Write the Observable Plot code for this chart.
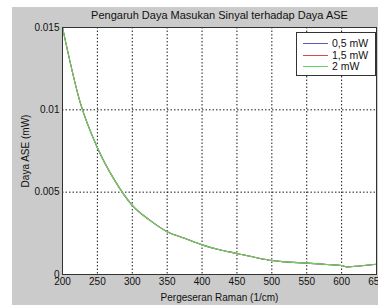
<!DOCTYPE html>
<html>
<head>
<meta charset="utf-8">
<script src="https://cdn.jsdelivr.net/npm/d3@7"></script>
<script src="https://cdn.jsdelivr.net/npm/@observablehq/plot@0.6"></script>
<style>
  html, body { margin: 0; padding: 0; background: white; overflow: hidden; }
  #wrap { position: relative; width: 378px; height: 305px; overflow: hidden; font-family: "Liberation Sans", Arial, sans-serif; }
  #bg { position: absolute; left: 12px; top: 7px; right: 0; bottom: 0; background: #cbcbcb; }
  #chart { position: absolute; left: 0; top: 0; }
  #chart svg { background: transparent !important; overflow: visible; }
  #legend { position: absolute; left: 296px; top: 32px; width: 78px; height: 42px; background: white; border: 1px solid #333; font-size: 10.5px; }
  .row { position: absolute; left: 0; height: 12px; }
  .row .sw { position: absolute; left: 6px; width: 25px; height: 0; top: 6px; border-top: 1px solid; }
  .row .lb { position: absolute; left: 35px; top: 0; line-height: 12px; white-space: nowrap; color: #111; }
</style>
</head>
<body>
<div id="wrap">
  <div id="bg"></div>
  <div id="chart"></div>
  <div id="legend"></div>
</div>
<script>
// Data
const raman = [200, 225, 250, 275, 300, 325, 350, 375, 400, 425, 450, 475, 500, 515, 550, 575, 600, 608, 625, 650];
const ase2mW = [0.015, 0.0105, 0.0077, 0.0057, 0.0042, 0.0033, 0.0026, 0.0022, 0.0018, 0.0015, 0.00128, 0.00105, 0.00085, 0.00078, 0.00069, 0.00062, 0.00055, 0.00046, 0.00052, 0.00062];
const ase05mW = ase2mW.slice();
const ase15mW = ase2mW.slice();
const seriesNames = ["0,5 mW", "1,5 mW", "2 mW"];
const seriesColors = ["#5a5ab4", "#d84848", "#5fd85f"];
const xTicks = [200, 250, 300, 350, 400, 450, 500, 550, 600, 650];
const yTicks = [0, 0.005, 0.01, 0.015];
const titleText = "Pengaruh Daya Masukan Sinyal terhadap Daya ASE";
const xLabel = "Pergeseran Raman (1/cm)";
const yLabel = "Daya ASE (mW)";

const allSeries = [ase05mW, ase15mW, ase2mW];
const rows = [];
allSeries.forEach((vals, i) => raman.forEach((x, j) => rows.push({x, y: vals[j], s: seriesNames[i]})));

const chart = Plot.plot({
  width: 378,
  height: 305,
  marginLeft: 62,
  marginRight: 2,
  marginTop: 27,
  marginBottom: 31,
  style: { fontFamily: "Liberation Sans, Arial, sans-serif", fontSize: "10px", color: "#111", background: "transparent" },
  x: { domain: [200, 650], ticks: xTicks },
  y: { domain: [0, 0.015], ticks: yTicks },
  color: { domain: seriesNames, range: seriesColors },
  marks: [
    Plot.frame({ fill: "white" }),
    Plot.gridX(xTicks.slice(1, -1), { stroke: "#000", strokeOpacity: 0.9, strokeDasharray: "1.5,2" }),
    Plot.gridY(yTicks.slice(1, -1), { stroke: "#000", strokeOpacity: 0.9, strokeDasharray: "1.5,2" }),
    Plot.line(rows, { x: "x", y: "y", z: "s", stroke: "s", strokeWidth: 1.1, curve: "monotone-x" }),
    Plot.frame({ stroke: "#333", strokeWidth: 1 }),
    Plot.axisX({ ticks: xTicks, tickSize: 0, tickPadding: 3, label: xLabel, labelAnchor: "center", labelOffset: 26, labelArrow: "none", fontSize: 10 }),
    Plot.axisY({ ticks: yTicks, tickSize: 0, tickPadding: 3, tickFormat: d => d === 0 ? "0" : String(d), label: yLabel, labelAnchor: "center", labelOffset: 41, labelArrow: "none", fontSize: 10 }),
    Plot.text([titleText], { frameAnchor: "top", dy: -16, fontSize: 11, text: d => d })
  ]
});
document.getElementById("chart").appendChild(chart);

const legend = document.getElementById("legend");
seriesNames.forEach((name, i) => {
  const r = document.createElement("div");
  r.className = "row";
  r.style.top = (4 + i * 11.7) + "px";
  r.innerHTML = `<div class="sw" style="border-color:${seriesColors[i]}"></div><div class="lb">${name}</div>`;
  legend.appendChild(r);
});
</script>
</body>
</html>
